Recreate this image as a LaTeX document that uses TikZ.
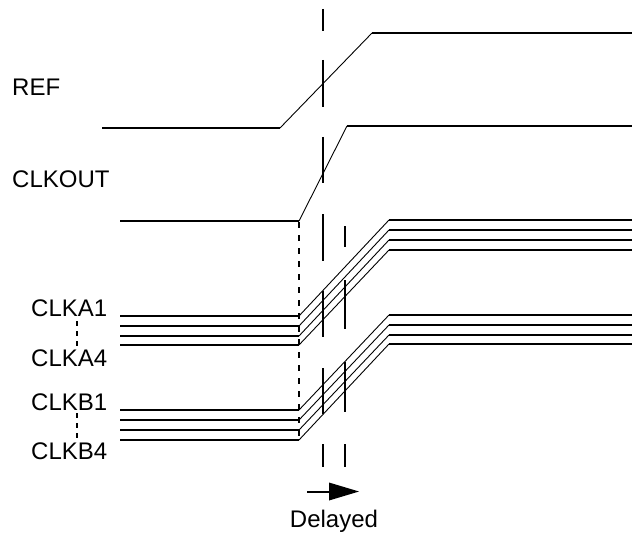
\documentclass[tikz,border=0pt]{standalone}
\usepackage{fontspec}
\setmainfont{Liberation Sans}
\begin{document}
\begin{tikzpicture}[x=1pt,y=-1pt,
  lbl/.style={anchor=west,inner sep=0pt,font=\fontsize{24}{28}\selectfont},
  lowseg/.style={line width=1.9pt},
  slant/.style={line width=0.9pt},
  highseg/.style={line width=1.3pt},
  mark line/.style={line width=2pt},
  dots/.style={line width=1.6pt,dash pattern=on 6pt off 7pt}]
\useasboundingbox (0,0) rectangle (638,535);
% labels
\node[lbl] (ref) at (12,87) {REF};
\node[lbl] (clkout) at (12,179) {CLKOUT};
\node[lbl] (a1) at (31,308) {CLKA1};
\node[lbl] (a4) at (31,358) {CLKA4};
\node[lbl] (b1) at (31,402) {CLKB1};
\node[lbl] (b4) at (31,451) {CLKB4};
\node[lbl,anchor=center] (delayed) at (334,521) {Delayed};
% label dotted links
\draw[line width=1.6pt,dash pattern=on 5pt off 5pt] (77,321) -- (77,346);
\draw[line width=1.6pt,dash pattern=on 5pt off 5pt] (77,413) -- (77,438);
% REF
\draw[lowseg] (102,128) -- (280,128);
\draw[slant] (280,128) -- (372,33);
\draw[highseg] (372,33) -- (632,33);
% CLKOUT
\draw[lowseg] (120,221) -- (299,221);
\draw[slant] (299,221) -- (347,126);
\draw[highseg] (347,126) -- (632,126);
% CLKA / CLKB bundles
\foreach \lo/\hi in {316/220,326/230,336/240,345/250,410/315,420/325,430/335,440/344}{
  \draw[lowseg] (120,\lo) -- (299,\lo);
  \draw[slant] (299,\lo) -- (389,\hi);
  \draw[highseg] (389,\hi) -- (632,\hi);
}
% dotted reference line
\draw[dots] (299,222) -- (299,440);
% dashed markers
\foreach \a/\b in {9/31,60/107,137/183,214/261,291/337,368/414,444/467}
  \draw[mark line] (323,\a) -- (323,\b);
\foreach \a/\b in {226/247,280/329,362/412,444/467}
  \draw[mark line] (345,\a) -- (345,\b);
% delay arrow
\coordinate (arrs) at (307,491.5);
\coordinate (arrb) at (329,491.5);
\draw[line width=2pt] (arrs) -- (arrb);
\fill (329,482.5) -- (359,491.5) -- (329,500.5) -- cycle;
\end{tikzpicture}
\end{document}
